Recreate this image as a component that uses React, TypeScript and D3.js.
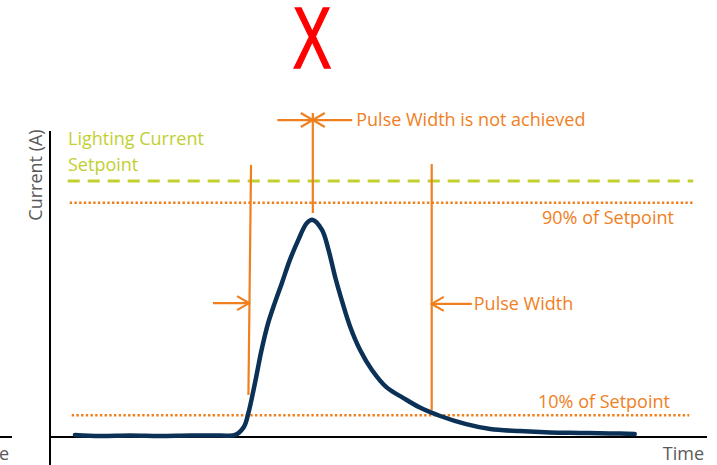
import { useEffect, useRef } from "react";
import * as d3 from "d3";

// Pulse trace (time in %, current in % of setpoint)
const pulseTime = [3.8, 7.6, 12.2, 16.7, 21.3, 25.9, 28.2, 29.5, 30.2, 31.2, 32.2, 33.2, 34.2, 35.3, 36.5, 37.8, 39.1, 40.0, 41.4, 42.4, 43.4, 44.4, 45.7, 47.2, 49.0, 51.2, 53.8, 56.3, 59.4, 63.2, 67.0, 71.5, 76.1, 80.7, 85.2, 89.0];
const pulseCurrent = [0.8, 0.4, 0.6, 0.4, 0.6, 0.6, 0.8, 3.9, 9.4, 21.1, 34.0, 44.5, 52.3, 60.2, 69.1, 77.0, 83.6, 84.8, 80.9, 73.0, 62.5, 53.5, 43.0, 34.0, 26.2, 19.5, 15.2, 11.5, 8.2, 5.1, 3.1, 2.3, 1.8, 1.6, 1.4, 1.2];

// reference levels
const setpointLevel = 100;
const upperLevel = 91.5; // "90% of Setpoint"
const lowerLevel = 8.5; // "10% of Setpoint"
const setpointSpan = [2.7, 97.9];
const upperSpan = [3.0, 97.9];
const lowerSpan = [3.3, 97.3];

// marker lines: [timeTop, timeBottom, currentTop, currentBottom]
const startMarker = [30.6, 30.2, 106.3, 16.4];
const peakMarker = [40.0, 40.0, 126.6, 87.5];
const endMarker = [58.1, 58.1, 106.6, 10.5];
const startArrow = [24.8, 30.3, 52.3];
const peakArrowSpan = [34.6, 46.0, 123.8];
const endArrow = [64.2, 58.1, 52.0];

const ORANGE = "#F0801E";
const GREEN = "#C2CF30";
const NAVY = "#0B3157";
const GRAY = "#595959";
const FONT = "'Open Sans', sans-serif";
const FS = 18;

export default function App() {
  const svgRef = useRef<SVGSVGElement>(null);
  const W = 717;
  const H = 465;

  useEffect(() => {
    if (!svgRef.current) return;
    const svg = d3.select(svgRef.current);
    svg.selectAll("*").remove();

    const x = d3.scaleLinear().domain([0, 100]).range([50, 707]);
    const y = d3.scaleLinear().domain([0, 100]).range([437, 181]);

    // big red X on top
    svg.append("text")
      .attr("transform", "translate(312,68) scale(0.66,1)")
      .attr("text-anchor", "middle")
      .attr("fill", "#FF0000")
      .attr("stroke", "#FF0000")
      .attr("stroke-width", 1.5)
      .attr("font-family", "'Liberation Sans', sans-serif")
      .attr("font-size", 88)
      .text("X");

    // leftover piece of a neighbouring chart
    svg.append("line").attr("x1", 0).attr("x2", 12).attr("y1", y(0)).attr("y2", y(0)).attr("stroke", "#000").attr("stroke-width", 2);
    svg.append("text").attr("x", 9).attr("y", 460).attr("text-anchor", "end").attr("fill", GRAY)
      .attr("font-family", FONT).attr("font-size", FS).text("e");

    // axes
    svg.append("line").attr("x1", x(0)).attr("x2", x(0)).attr("y1", 131).attr("y2", H).attr("stroke", "#000").attr("stroke-width", 2);
    svg.append("line").attr("x1", x(0)).attr("x2", x(100)).attr("y1", y(0)).attr("y2", y(0)).attr("stroke", "#000").attr("stroke-width", 2);

    svg.append("text")
      .attr("transform", "translate(42,175) rotate(-90)")
      .attr("text-anchor", "middle")
      .attr("fill", GRAY)
      .attr("font-family", FONT)
      .attr("font-size", FS)
      .text("Current (A)");
    svg.append("text").attr("x", 704).attr("y", 460).attr("text-anchor", "end").attr("fill", GRAY)
      .attr("font-family", FONT).attr("font-size", FS).text("Time");

    // setpoint + 90% / 10% lines
    svg.append("line")
      .attr("x1", x(setpointSpan[0])).attr("x2", x(setpointSpan[1]))
      .attr("y1", y(setpointLevel)).attr("y2", y(setpointLevel))
      .attr("stroke", GREEN).attr("stroke-width", 3).attr("stroke-dasharray", "12 8");
    svg.append("line")
      .attr("x1", x(upperSpan[0])).attr("x2", x(upperSpan[1]))
      .attr("y1", y(upperLevel)).attr("y2", y(upperLevel))
      .attr("stroke", ORANGE).attr("stroke-width", 2.5).attr("stroke-dasharray", "2.4 2.3");
    svg.append("line")
      .attr("x1", x(lowerSpan[0])).attr("x2", x(lowerSpan[1]))
      .attr("y1", y(lowerLevel)).attr("y2", y(lowerLevel))
      .attr("stroke", ORANGE).attr("stroke-width", 2.5).attr("stroke-dasharray", "2.4 2.3");

    const label = (tx: number, ty: number, txt: string, color: string) =>
      svg.append("text").attr("x", tx).attr("y", ty).attr("fill", color)
        .attr("font-family", FONT).attr("font-size", FS).text(txt);

    label(68, 145, "Lighting Current", GREEN);
    label(68, 171, "Setpoint", GREEN);
    label(542, y(upperLevel) + 21, "90% of Setpoint", ORANGE);
    label(538, y(lowerLevel) - 7, "10% of Setpoint", ORANGE);

    // pulse trace
    const pts = pulseTime.map((t, i) => [t, pulseCurrent[i]] as [number, number]);
    const line = d3.line<[number, number]>()
      .x((d) => x(d[0]))
      .y((d) => y(d[1]))
      .curve(d3.curveCatmullRom.alpha(0.5));
    svg.append("path").datum(pts).attr("d", line).attr("fill", "none")
      .attr("stroke", NAVY).attr("stroke-width", 4.5).attr("stroke-linecap", "round").attr("stroke-linejoin", "round");

    // markers
    const g = svg.append("g").attr("stroke", ORANGE).attr("stroke-width", 2.2).attr("fill", "none");
    for (const m of [startMarker, peakMarker, endMarker]) {
      g.append("line").attr("x1", x(m[0])).attr("x2", x(m[1])).attr("y1", y(m[2])).attr("y2", y(m[3]));
    }
    const arrow = (fromT: number, toT: number, c: number) => {
      const x0 = x(fromT);
      const x1 = x(toT);
      const yy = y(c);
      const dir = x1 > x0 ? 1 : -1;
      g.append("line").attr("x1", x0).attr("x2", x1).attr("y1", yy).attr("y2", yy);
      g.append("path").attr("d", `M${x1 - dir * 12},${yy - 7}L${x1},${yy}L${x1 - dir * 12},${yy + 7}`);
    };
    arrow(startArrow[0], startArrow[1], startArrow[2]);
    arrow(endArrow[0], endArrow[1], endArrow[2]);
    arrow(peakArrowSpan[0], peakMarker[0], peakArrowSpan[2]);
    arrow(peakArrowSpan[1], peakMarker[0], peakArrowSpan[2]);

    label(x(peakArrowSpan[1]) + 4, y(peakArrowSpan[2]) + 6, "Pulse Width is not achieved", ORANGE);
    label(x(endArrow[0]) + 2, y(endArrow[2]) + 6, "Pulse Width", ORANGE);
  }, []);

  return (
    <svg
      ref={svgRef}
      width={W}
      height={H}
      viewBox={`0 0 ${W} ${H}`}
      style={{ position: "absolute", left: 0, top: 0, background: "#fff" }}
    />
  );
}
